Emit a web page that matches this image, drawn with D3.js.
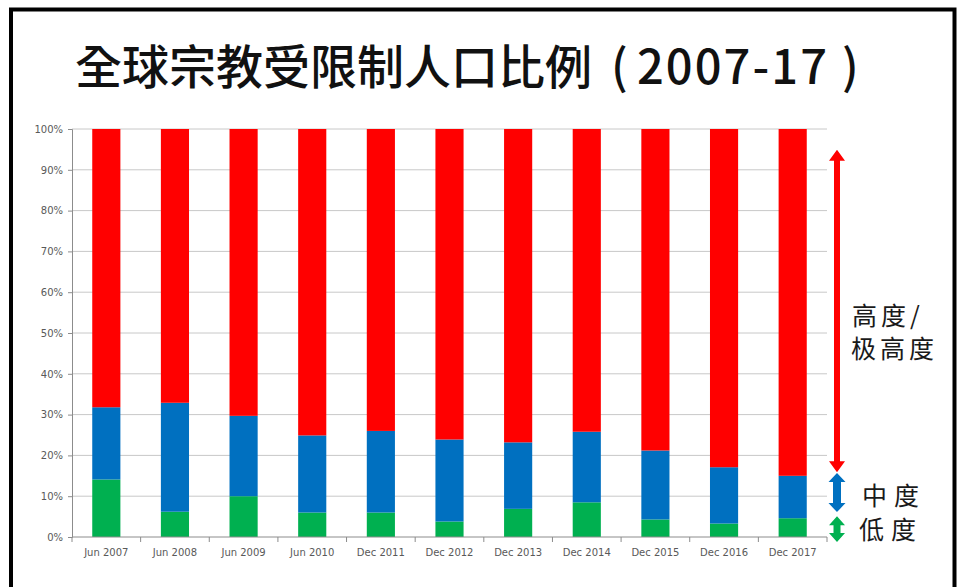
<!DOCTYPE html>
<html>
<head>
<meta charset="utf-8">
<script src="https://cdn.jsdelivr.net/npm/d3@7"></script>
<style>
  body { margin: 0; background: #fff; }
  svg { display: block; }
</style>
</head>
<body>
<svg id="chart" width="959" height="587"></svg>
<script>
const categories = ["Jun 2007", "Jun 2008", "Jun 2009", "Jun 2010", "Dec 2011", "Dec 2012",
    "Dec 2013", "Dec 2014", "Dec 2015", "Dec 2016", "Dec 2017"];
// percent of world population, low / moderate / high+very high
const low = [14.1, 6.2, 10.0, 6.0, 6.0, 3.8, 6.9, 8.5, 4.3, 3.3, 4.6];
const moderate = [17.7, 26.7, 19.7, 18.9, 20.0, 20.1, 16.3, 17.3, 16.9, 13.8, 10.4];
const high = categories.map((c, i) => 100 - low[i] - moderate[i]);
const yTicks = [0, 10, 20, 30, 40, 50, 60, 70, 80, 90, 100];

// annotation arrows, in percent units of the y axis
const arrowSpans = [
    { key: "high", from: 94.9, to: 15.9, shaft: 6, head: 16, len: 11 },
    { key: "moderate", from: 15.7, to: 6.1, shaft: 8, head: 17, len: 9 },
    { key: "low", from: 5.1, to: -1.2, shaft: 7, head: 16, len: 9 }
];

const colors = { low: "#00b050", moderate: "#0070c0", high: "#ff0000" };

const svg = d3.select("#chart");

// frame
svg.append("path")
    .attr("d", "M11,600 V9.5 H954.5 V600")
    .attr("fill", "none")
    .attr("stroke", "#000")
    .attr("stroke-width", 4);

// title
const title = svg.append("text")
    .attr("y", 84)
    .attr("font-family", "'Noto Sans CJK TC', 'Noto Sans CJK SC', sans-serif")
    .attr("font-size", 47)
    .attr("font-weight", 500)
    .attr("fill", "#111");
title.append("tspan").attr("x", 75).text("全球宗教受限制人口比例");
title.append("tspan").attr("x", 611).text("(");
title.append("tspan").attr("x", 637).attr("textLength", 190).text("2007-17");
title.append("tspan").attr("x", 842).text(")");

const x = d3.scaleBand().domain(categories).range([72, 827]).paddingInner(0.59).paddingOuter(0.295);
const y = d3.scaleLinear().domain([0, 100]).range([537, 129]);

// gridlines
svg.append("g")
    .selectAll("line")
    .data(yTicks.filter(d => d > 0))
    .enter()
    .append("line")
    .attr("x1", 72).attr("x2", 827)
    .attr("y1", d => y(d)).attr("y2", d => y(d))
    .attr("stroke", "#c8c8c8")
    .attr("stroke-width", 1);

// stacked bars
const table = categories.map((c, i) => ({ cat: c, low: low[i], moderate: moderate[i], high: high[i] }));
const stack = d3.stack().keys(["low", "moderate", "high"])(table);

svg.append("g")
    .selectAll("g")
    .data(stack)
    .enter()
    .append("g")
    .attr("fill", d => colors[d.key])
    .selectAll("rect")
    .data(d => d)
    .enter()
    .append("rect")
    .attr("x", d => x(d.data.cat))
    .attr("width", x.bandwidth())
    .attr("y", d => y(d[1]))
    .attr("height", d => y(d[0]) - y(d[1]));

// y axis
const yAxis = svg.append("g")
    .attr("transform", "translate(72,0)")
    .call(d3.axisLeft(y).tickValues(yTicks).tickSize(4).tickPadding(5).tickFormat(d => d + "%"));
yAxis.select(".domain").attr("stroke", "#8c8c8c");
yAxis.selectAll(".tick line").attr("stroke", "#8c8c8c");
yAxis.selectAll("text")
    .attr("font-family", "'DejaVu Sans', sans-serif")
    .attr("font-size", 10)
    .attr("fill", "#595959");

// x axis
const xAxis = svg.append("g").attr("transform", "translate(0,537)");
xAxis.append("line")
    .attr("x1", 72).attr("x2", 827)
    .attr("stroke", "#8c8c8c");
xAxis.selectAll("line.tk")
    .data(d3.range(categories.length + 1))
    .enter()
    .append("line")
    .attr("class", "tk")
    .attr("x1", i => 72 + i * x.step()).attr("x2", i => 72 + i * x.step())
    .attr("y1", 0).attr("y2", 5)
    .attr("stroke", "#8c8c8c");
xAxis.selectAll("text")
    .data(categories)
    .enter()
    .append("text")
    .attr("x", d => x(d) + x.bandwidth() / 2)
    .attr("y", 19)
    .attr("text-anchor", "middle")
    .attr("font-family", "'DejaVu Sans', sans-serif")
    .attr("font-size", 10)
    .attr("fill", "#595959")
    .text(d => d);

// double-headed arrows on the right
const ax = 837;
svg.append("g")
    .selectAll("path")
    .data(arrowSpans)
    .enter()
    .append("path")
    .attr("fill", d => colors[d.key])
    .attr("d", d => {
        const t = y(d.from), b = y(d.to), s = d.shaft / 2, h = d.head / 2, l = d.len;
        return `M${ax},${t} L${ax + h},${t + l} L${ax + s},${t + l} L${ax + s},${b - l} L${ax + h},${b - l}` +
            ` L${ax},${b} L${ax - h},${b - l} L${ax - s},${b - l} L${ax - s},${t + l} L${ax - h},${t + l} Z`;
    });

// labels next to arrows
const labelFont = "'Noto Sans CJK SC', 'Noto Sans CJK TC', sans-serif";
const labels = [
    { text: "高度/", x: 852, y: 325 },
    { text: "极高度", x: 851, y: 358 },
    { text: "中度", x: 862, y: 505 },
    { text: "低度", x: 859, y: 539 }
];
svg.append("g")
    .selectAll("text")
    .data(labels)
    .enter()
    .append("text")
    .attr("x", d => d.x)
    .attr("y", d => d.y)
    .attr("font-family", labelFont)
    .attr("font-size", 25)
    .attr("letter-spacing", d => d.text.length === 2 ? 7 : 4)
    .attr("fill", "#1a1a1a")
    .text(d => d.text);
</script>
</body>
</html>
